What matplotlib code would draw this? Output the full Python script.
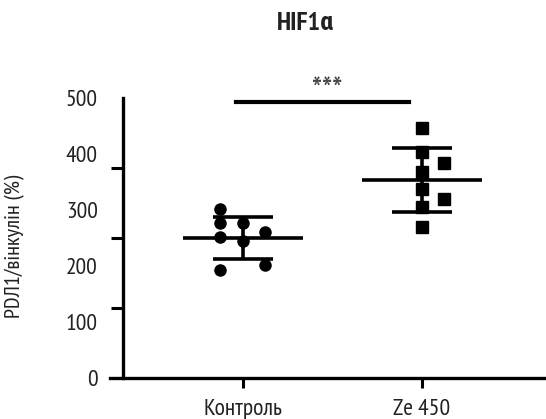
import numpy as np
import matplotlib
matplotlib.use("Agg")
import matplotlib.pyplot as plt

plt.rcParams['font.family'] = ['PT Sans Narrow', 'Roboto Condensed', 'DejaVu Sans']

# data
groups = ['Контроль', 'Ze 450']
control = [301, 276, 251, 276, 244, 260, 192, 201]
ze450 = [446, 403, 384, 367, 337, 319, 305, 269]
# horizontal scatter of points (layout only)
control_dx = [-0.125, -0.125, -0.125, 0.0, 0.0, 0.125, -0.125, 0.125]
ze_dx = [0.0, 0.0, 0.125, 0.0, 0.0, 0.125, 0.0, 0.0]
yticks = [0, 100, 200, 300, 400, 500]
yticks_minor = [0, 125, 250, 375, 500]

fig = plt.figure(figsize=(5.46, 4.19), dpi=100)
ax = fig.add_axes([110 / 546, (419 - 378) / 419, 434 / 546, 280 / 419])

ax.set_xlim(-0.74, 1.68)
ax.set_ylim(0, 500)

series = [(control, control_dx, 'o'), (ze450, ze_dx, 's')]
for i, (vals, dx, mk) in enumerate(series):
    vals = np.array(vals)
    ax.plot(i + np.array(dx), vals, mk, color='black', ms=8, zorder=3,
            clip_on=False)
    m = vals.mean()
    sd = vals.std(ddof=1)
    ax.hlines(m, i - 0.335, i + 0.335, color='black', lw=2.6, zorder=4)
    ax.vlines(i, m - sd, m + sd, color='black', lw=2.6, zorder=4)
    ax.hlines([m - sd, m + sd], i - 0.167, i + 0.167, color='black',
              lw=2.6, zorder=4)

# significance bar
ax.plot([-0.035, 0.925], [492, 492], color='black', lw=3, clip_on=False)
ax.text(0.47, 510, '***', ha='center', va='center', fontsize=25,
        color='#444444')

ax.spines['top'].set_visible(False)
ax.spines['right'].set_visible(False)
ax.spines['left'].set_position(('data', -0.668))
ax.spines['left'].set_linewidth(2.4)
ax.spines['bottom'].set_linewidth(2.4)

ax.set_yticks(yticks)
ax.set_yticklabels([str(t) for t in yticks], fontsize=17, color='#222222')
ax.set_yticks(yticks_minor, minor=True)
ax.tick_params(axis='y', which='major', length=0, pad=18)
ax.tick_params(axis='y', which='minor', length=9, width=2.2)

ax.set_xticks(range(len(groups)))
ax.set_xticklabels(groups, fontsize=17, color='#222222')
ax.tick_params(axis='x', length=7, width=2.2, pad=8)

ax.set_ylabel('PDЛ1/вінкулін (%)', fontsize=16, color='#222222')
ax.yaxis.set_label_coords(-0.195, 0.47)

fig.text(305 / 546, 1 - 23 / 419, 'HIF1α', ha='center', va='center',
         fontsize=19, fontweight='bold', color='#222222')

fig.savefig('out.png', dpi=100)
